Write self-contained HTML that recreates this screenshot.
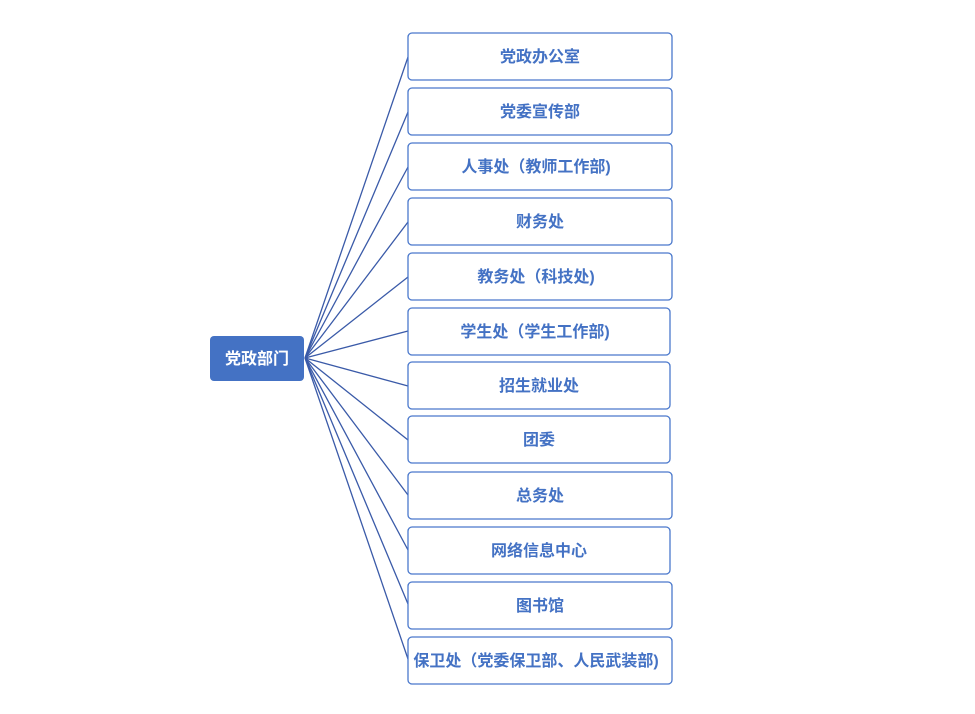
<!DOCTYPE html>
<html><head><meta charset="utf-8"><style>
html,body{margin:0;padding:0;background:#fff;}
svg text{font-family:"Liberation Sans","Noto Sans CJK SC",sans-serif;font-weight:bold;font-size:16px;}
</style></head><body>
<svg width="975" height="709" xmlns="http://www.w3.org/2000/svg">
<g stroke="#3a5aa8" stroke-width="1.3" fill="none">
<line x1="305" y1="358" x2="408" y2="57"/>
<line x1="305" y1="358" x2="408" y2="112"/>
<line x1="305" y1="358" x2="408" y2="167"/>
<line x1="305" y1="358" x2="408" y2="222"/>
<line x1="305" y1="358" x2="408" y2="277"/>
<line x1="305" y1="358" x2="408" y2="331"/>
<line x1="305" y1="358" x2="408" y2="386"/>
<line x1="305" y1="358" x2="408" y2="440"/>
<line x1="305" y1="358" x2="408" y2="495"/>
<line x1="305" y1="358" x2="408" y2="550"/>
<line x1="305" y1="358" x2="408" y2="604"/>
<line x1="305" y1="358" x2="408" y2="659"/>
</g>
<rect x="210" y="336" width="94" height="45" rx="4" fill="#4472c4"/>
<text x="257" y="364" text-anchor="middle" fill="#fff">党政部门</text>
<g fill="#fff" stroke="#4a78cc" stroke-width="1.3">
<rect x="408" y="33" width="264" height="47" rx="4"/>
<rect x="408" y="88" width="264" height="47" rx="4"/>
<rect x="408" y="143" width="264" height="47" rx="4"/>
<rect x="408" y="198" width="264" height="47" rx="4"/>
<rect x="408" y="253" width="264" height="47" rx="4"/>
<rect x="408" y="308" width="262" height="47" rx="4"/>
<rect x="408" y="362" width="262" height="47" rx="4"/>
<rect x="408" y="416" width="262" height="47" rx="4"/>
<rect x="408" y="472" width="264" height="47" rx="4"/>
<rect x="408" y="527" width="262" height="47" rx="4"/>
<rect x="408" y="582" width="264" height="47" rx="4"/>
<rect x="408" y="637" width="264" height="47" rx="4"/>
</g>
<g fill="#4472c4" text-anchor="middle">
<text x="540" y="62">党政办公室</text>
<text x="540" y="117">党委宣传部</text>
<text x="536" y="172">人事处（教师工作部)</text>
<text x="540" y="227">财务处</text>
<text x="536" y="282">教务处（科技处)</text>
<text x="535" y="337">学生处（学生工作部)</text>
<text x="539" y="391">招生就业处</text>
<text x="539" y="445">团委</text>
<text x="540" y="501">总务处</text>
<text x="539" y="556">网络信息中心</text>
<text x="540" y="611">图书馆</text>
<text x="536" y="666">保卫处（党委保卫部、人民武装部)</text>
</g>
</svg>
</body></html>
